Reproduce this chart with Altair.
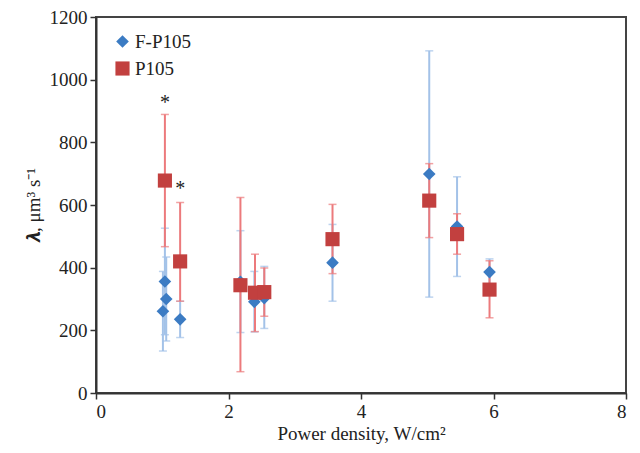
import altair as alt
import pandas as pd

# F-P105 series: x, mean, lower and upper error limits
fp_x = [1.04, 1.06, 1.01, 1.27, 2.18, 2.39, 2.54, 3.57, 5.03, 5.45, 5.94]
fp_y = [356, 300, 261, 235, 355, 291, 303, 416, 699, 531, 386]
fp_lo = [186, 166, 134, 177, 193, 195, 206, 293, 306, 372, 344]
fp_hi = [526, 434, 388, 293, 518, 388, 404, 538, 1092, 690, 428]

# P105 series
p_x = [1.04, 1.27, 2.18, 2.40, 2.54, 3.57, 5.03, 5.45, 5.94]
p_y = [678, 420, 344, 320, 322, 491, 614, 507, 330]
p_lo = [467, 293, 68, 196, 245, 381, 496, 443, 240]
p_hi = [889, 608, 624, 443, 399, 602, 732, 572, 422]

# significance markers
star_x = [1.04, 1.27]
star_y = [925, 650]

series_names = ["F-P105", "P105"]

fp = pd.DataFrame({"x": fp_x, "y": fp_y, "lo": fp_lo, "hi": fp_hi, "series": "F-P105"})
pp = pd.DataFrame({"x": p_x, "y": p_y, "lo": p_lo, "hi": p_hi, "series": "P105"})
pts = pd.concat([fp, pp], ignore_index=True)
stars = pd.DataFrame({"x": star_x, "y": star_y, "t": ["*", "*"]})

FONT = "Liberation Serif"
xs = alt.Scale(domain=[0, 8], nice=False)
ys = alt.Scale(domain=[0, 1200], nice=False)

X = alt.X("x:Q", scale=xs, axis=alt.Axis(values=[0, 2, 4, 6, 8], format="d", title="Power density, W/cm²"))
Y = alt.Y("y:Q", scale=ys, axis=alt.Axis(values=list(range(0, 1201, 200)), format="d", title="𝝀, μm³ s⁻¹"))


def errbars(df, color):
    b = alt.Chart(df)
    rule = b.mark_rule(color=color, strokeWidth=2).encode(
        x=alt.X("x:Q", scale=xs), y=alt.Y("lo:Q", scale=ys), y2="hi:Q")
    cap_lo = b.mark_tick(color=color, orient="horizontal", size=8, thickness=1.5).encode(
        x=alt.X("x:Q", scale=xs), y=alt.Y("lo:Q", scale=ys))
    cap_hi = b.mark_tick(color=color, orient="horizontal", size=8, thickness=1.5).encode(
        x=alt.X("x:Q", scale=xs), y=alt.Y("hi:Q", scale=ys))
    return rule + cap_lo + cap_hi


blue_err = errbars(fp, "#A3C2E8")
red_err = errbars(pp, "#EC7A7C")

points = alt.Chart(pts).mark_point(filled=True, opacity=1).encode(
    x=X, y=Y,
    color=alt.Color("series:N", scale=alt.Scale(domain=series_names, range=["#3B7BC3", "#C2403F"]),
                    legend=alt.Legend(title=None, orient="none", legendX=17, legendY=15)),
    shape=alt.Shape("series:N", scale=alt.Scale(domain=series_names, range=["diamond", "square"])),
    size=alt.Size("series:N", scale=alt.Scale(domain=series_names, range=[160, 200]), legend=None),
)

star_text = alt.Chart(stars).mark_text(font=FONT, fontSize=20, color="#222", baseline="middle").encode(
    x=alt.X("x:Q", scale=xs), y=alt.Y("y:Q", scale=ys), text="t:N")

chart = (blue_err + red_err + points + star_text).properties(
    width=530, height=376,
    autosize=alt.AutoSizeParams(type="none"),
    padding={"left": 88, "top": 9, "right": 6, "bottom": 52},
).configure_view(
    stroke="#444", strokeWidth=2
).configure_axis(
    grid=False, domainColor="#333", domainWidth=2, tickColor="#333", tickWidth=1.5, tickSize=6,
    labelFont=FONT, labelFontSize=19, labelColor="#222", labelPadding=3,
    titleFont=FONT, titleFontSize=19, titleColor="#222", titleFontWeight="normal",
).configure_axisY(titlePadding=6).configure_axisX(titlePadding=3).configure_legend(
    labelFont=FONT, labelFontSize=19, labelColor="#222", symbolSize=130, rowPadding=7,
    symbolStrokeWidth=0, labelOffset=3,
)

chart.save("out.html", embed_options={"renderer": "svg", "actions": False})
